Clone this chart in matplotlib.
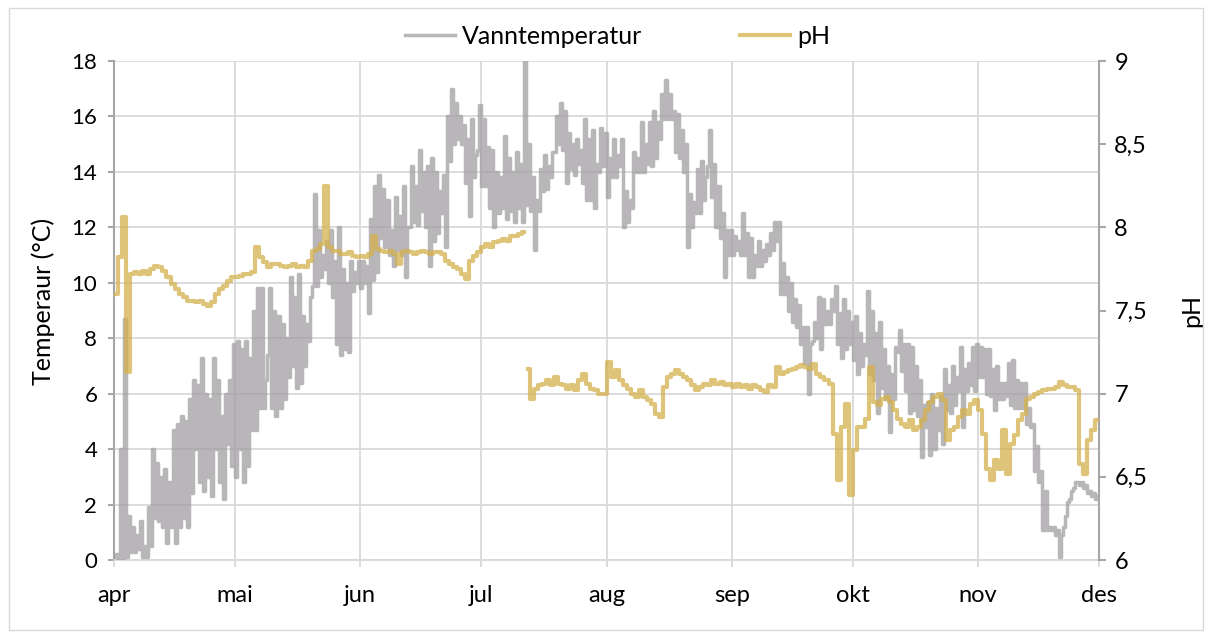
import numpy as np
import matplotlib
matplotlib.use("Agg")
import matplotlib.pyplot as plt
from matplotlib.patches import Rectangle
from matplotlib.ticker import FuncFormatter

plt.rcParams["font.family"] = ["Lato", "DejaVu Sans"]

# daily min / max water temperature, 1 apr - 30 nov
temp_lo = [
    # apr
    0.1, 0.0, 0.0, 0.1, 0.3, 0.3, 0.4, 0.1, 0.1, 0.5,
    1.5, 1.4, 1.2, 0.6, 1.2, 0.6, 1.2, 1.5, 1.2, 2.4,
    4.0, 2.8, 2.5, 3.0, 2.3, 4.0, 2.8, 2.2, 4.2, 3.4,
    # mai
    3.0, 4.0, 2.8, 3.4, 4.7, 4.7, 5.5, 5.5, 7.4, 5.5,
    5.2, 5.5, 5.8, 6.6, 7.0, 6.2, 6.4, 7.0, 7.9, 9.9,
    9.9, 10.2, 10.5, 10.0, 9.5, 7.8, 7.4, 7.6, 7.5, 9.7, 10.0,
    # jun
    9.8, 10.0, 8.9, 10.1, 10.4, 11.6, 11.3, 11.0, 10.6, 11.2,
    11.0, 10.2, 12.0, 12.2, 12.1, 12.6, 12.0, 10.6, 11.5, 11.8,
    12.5, 11.3, 14.4, 15.0, 15.2, 15.0, 13.6, 12.4, 13.8, 14.8,
    # jul
    13.5, 13.5, 12.7, 12.0, 12.5, 12.7, 12.3, 12.6, 12.2, 12.7,
    12.2, 12.8, 12.6, 11.2, 12.6, 13.3, 13.4, 13.8, 14.7, 15.0,
    14.8, 13.6, 14.1, 13.9, 14.3, 13.6, 13.0, 13.0, 12.7, 14.0, 14.2,
    # aug
    13.1, 13.8, 13.8, 14.2, 12.0, 12.2, 12.7, 14.0, 14.0, 14.0,
    14.3, 14.2, 14.5, 15.2, 15.9, 15.9, 15.9, 14.7, 14.5, 14.0,
    11.3, 12.0, 12.5, 12.5, 13.0, 14.2, 13.1, 12.0, 11.6, 10.2, 11.0,
    # sep
    11.0, 11.2, 11.0, 11.0, 10.2, 10.2, 10.6, 10.6, 10.8, 11.0,
    11.2, 11.5, 9.6, 9.6, 9.0, 8.6, 8.4, 7.8, 7.1, 6.0,
    7.9, 8.0, 7.6, 8.5, 8.5, 9.0, 7.8, 7.3, 7.6, 7.8,
    # okt
    7.2, 6.7, 7.0, 7.4, 6.7, 6.5, 5.3, 6.2, 5.8, 4.6,
    5.8, 7.5, 6.8, 6.1, 5.3, 5.4, 5.2, 3.7, 4.8, 3.8,
    4.0, 4.7, 4.2, 5.4, 5.3, 5.6, 6.1, 4.8, 6.1, 6.3, 6.1,
    # nov
    6.6, 6.6, 6.0, 5.9, 5.4, 5.8, 5.8, 5.9, 5.6, 5.5,
    5.5, 5.5, 4.9, 4.8, 3.2, 2.8, 1.1, 1.1, 1.1, 0.9,
    0.1, 1.2, 2.1, 2.5, 2.8, 2.7, 2.6, 2.4, 2.3, 2.2,
]
temp_hi = [
    # apr
    0.2, 4.0, 8.7, 1.6, 1.2, 0.9, 1.4, 0.5, 1.9, 4.0,
    3.5, 3.0, 3.3, 2.8, 4.7, 4.9, 5.2, 5.0, 5.8, 6.5,
    6.3, 7.3, 6.0, 5.8, 7.3, 6.5, 5.2, 6.0, 6.5, 7.8,
    # mai
    7.9, 7.6, 7.9, 7.3, 9.0, 9.8, 9.8, 6.5, 9.8, 9.0,
    8.8, 8.5, 8.0, 10.2, 9.5, 10.3, 8.8, 8.5, 9.5, 13.2,
    11.9, 11.0, 11.5, 11.9, 10.8, 12.0, 10.5, 10.0, 10.8, 10.4, 10.8,
    # jun
    10.8, 10.6, 12.3, 13.5, 13.9, 13.4, 13.0, 11.9, 13.1, 12.4,
    13.5, 12.0, 14.2, 13.5, 14.8, 14.0, 14.2, 14.5, 14.0, 13.3,
    13.9, 16.0, 17.0, 16.5, 16.0, 15.7, 15.2, 15.9, 14.6, 16.4,
    # jul
    15.9, 14.9, 14.8, 14.0, 13.8, 15.3, 14.5, 14.0, 14.7, 14.3,
    18.0, 15.0, 13.8, 13.0, 14.1, 14.6, 14.2, 14.7, 16.0, 16.5,
    16.2, 15.4, 15.0, 15.2, 14.8, 15.9, 15.2, 15.5, 14.3, 15.6, 15.4,
    # aug
    14.5, 15.2, 14.6, 15.2, 13.3, 13.0, 14.7, 14.5, 15.8, 15.0,
    15.8, 16.2, 15.8, 16.8, 17.3, 16.8, 16.2, 16.1, 15.5, 15.0,
    13.2, 12.9, 14.1, 14.4, 13.8, 15.5, 14.3, 13.5, 12.5, 11.9, 11.9,
    # sep
    11.7, 11.5, 12.5, 11.8, 11.6, 11.0, 11.5, 11.2, 11.4, 11.8,
    12.2, 12.2, 10.7, 10.2, 10.0, 9.4, 9.2, 8.4, 8.4, 7.8,
    8.6, 9.5, 9.4, 9.0, 9.4, 9.9, 8.9, 9.4, 9.0, 8.6,
    # okt
    8.8, 8.2, 7.8, 9.7, 9.0, 8.2, 8.6, 7.6, 7.0, 6.7,
    7.7, 8.3, 7.8, 7.8, 7.7, 7.0, 6.5, 5.6, 5.7, 6.0,
    5.5, 5.9, 6.9, 6.3, 7.0, 6.6, 7.7, 6.9, 7.1, 7.7, 7.8,
    # nov
    7.7, 7.6, 7.6, 6.9, 7.0, 6.4, 6.4, 7.1, 7.2, 6.5,
    6.4, 6.4, 5.5, 4.9, 4.1, 3.2, 2.5, 1.2, 1.2, 1.1,
    0.9, 1.6, 2.2, 2.6, 2.8, 2.8, 2.7, 2.5, 2.4, 2.3,
]

# daily pH, first sensor period (1 apr - 11 jul)
ph_a = [
    7.60, 7.82, 8.06, 7.13, 7.72, 7.73, 7.72, 7.74, 7.72, 7.75,
    7.77, 7.76, 7.74, 7.70, 7.66, 7.63, 7.60, 7.58, 7.56, 7.56,
    7.55, 7.56, 7.54, 7.53, 7.55, 7.60, 7.63, 7.65, 7.68, 7.70,
    7.70, 7.71, 7.72, 7.72, 7.73, 7.88, 7.82, 7.79, 7.76, 7.78,
    7.78, 7.77, 7.76, 7.77, 7.78, 7.76, 7.77, 7.76, 7.80, 7.86,
    7.87, 7.90, 8.25, 7.88, 7.86, 7.86, 7.84, 7.84, 7.85, 7.83,
    7.82, 7.83, 7.82, 7.84, 7.95, 7.87, 7.86, 7.85, 7.86, 7.84,
    7.78, 7.85, 7.86, 7.85, 7.84, 7.85, 7.86, 7.85, 7.84, 7.85,
    7.85, 7.84, 7.80, 7.78, 7.76, 7.75, 7.72, 7.69, 7.80, 7.83,
    7.85, 7.88, 7.90, 7.88, 7.91, 7.92, 7.93, 7.92, 7.95, 7.95,
    7.96, 7.97,
]
# daily pH, second sensor period (12 jul - 30 nov)
ph_b = [
    7.15, 6.97, 7.03, 7.05, 7.06, 7.08, 7.05, 7.10, 7.06, 7.05,
    7.03, 7.05, 7.02, 7.08, 7.12, 7.06, 7.03, 7.02, 7.00, 7.00,
    7.19, 7.10, 7.14, 7.08, 7.05, 7.03, 7.00, 6.98, 7.02, 6.98,
    6.96, 6.94, 6.88, 6.86, 7.04, 7.10, 7.12, 7.14, 7.12, 7.10,
    7.08, 7.05, 7.02, 7.04, 7.06, 7.05, 7.08, 7.06, 7.07, 7.05,
    7.06, 7.04, 7.06, 7.04, 7.05, 7.03, 7.05, 7.04, 7.02, 7.01,
    7.05, 7.04, 7.16, 7.12, 7.13, 7.14, 7.15, 7.16, 7.17, 7.16,
    7.15, 7.18, 7.12, 7.10, 7.08, 7.06, 6.76, 6.48, 6.80, 6.94,
    6.39, 6.66, 6.80, 6.80, 6.85, 7.16, 6.95, 6.93, 6.97, 6.98,
    6.95, 6.90, 6.85, 6.82, 6.80, 6.84, 6.78, 6.80, 6.84, 6.90,
    6.95, 6.98, 7.00, 6.96, 6.72, 6.78, 6.80, 6.86, 6.90, 6.88,
    6.94, 6.96, 6.90, 6.76, 6.55, 6.48, 6.60, 6.55, 6.78, 6.52,
    6.70, 6.75, 6.84, 6.88, 6.97, 6.98, 7.00, 7.01, 7.02, 7.03,
    7.03, 7.04, 7.07, 7.05, 7.04, 7.04, 7.02, 6.58, 6.52, 6.72,
    6.78, 6.84,
]

start_a = np.datetime64("2019-04-01")
start_b = np.datetime64("2019-07-12")
month_starts = np.array(["2019-04-01", "2019-05-01", "2019-06-01", "2019-07-01", "2019-08-01",
                         "2019-09-01", "2019-10-01", "2019-11-01", "2019-12-01"], dtype="datetime64[D]")
month_labels = ["apr", "mai", "jun", "jul", "aug", "sep", "okt", "nov", "des"]
temp_ticks = list(range(0, 19, 2))
ph_ticks = [6, 6.5, 7, 7.5, 8, 8.5, 9]

GREY = "#a09ea0"
GOLD = "#d3b04b"
GRID = "#d9d9d9"
AXIS = "#a6a6a6"

# temperature as min at midnight, max at noon
n = len(temp_lo)
day_t = start_a + np.arange(n).astype("timedelta64[D]")
t_temp = np.empty(2 * n, dtype="datetime64[h]")
t_temp[0::2] = day_t
t_temp[1::2] = day_t + np.timedelta64(12, "h")
v_temp = np.empty(2 * n)
v_temp[0::2] = temp_lo
v_temp[1::2] = temp_hi

t_ph_a = start_a + np.arange(len(ph_a)).astype("timedelta64[D]") + np.timedelta64(12, "h")
t_ph_b = start_b + np.arange(len(ph_b)).astype("timedelta64[D]") + np.timedelta64(12, "h")

fig = plt.figure(figsize=(12.1, 6.32), dpi=100)
ax = fig.add_axes([114 / 1210, 1 - 560 / 632, 985 / 1210, 499 / 632])
ax2 = ax.twinx()

l_temp, = ax.plot(t_temp, v_temp, color=GREY, alpha=0.75, lw=2.5,
                  drawstyle="steps-post", label="Vanntemperatur", zorder=3)
l_ph, = ax2.plot(t_ph_a, ph_a, color=GOLD, alpha=0.75, lw=3,
                 drawstyle="steps-mid", label="pH", zorder=3)
ax2.plot(t_ph_b, ph_b, color=GOLD, alpha=0.75, lw=3, drawstyle="steps-mid", zorder=3)

ax.set_xlim(month_starts[0], month_starts[-1])
ax.set_ylim(0, 18)
ax2.set_ylim(6, 9)
ax.set_xticks(month_starts)
ax.set_xticklabels(month_labels)
ax.set_yticks(temp_ticks)
ax2.set_yticks(ph_ticks)
ax2.yaxis.set_major_formatter(FuncFormatter(lambda v, p: f"{v:g}".replace(".", ",")))

ax.grid(True, color=GRID, lw=1.3, zorder=0)
ax.set_axisbelow(True)

for s in ["top", "right"]:
    ax.spines[s].set_visible(False)
for s in ["top", "left", "bottom"]:
    ax2.spines[s].set_visible(False)
ax.spines["bottom"].set_color(GRID)
ax.spines["bottom"].set_linewidth(1.3)
ax.spines["left"].set_color(AXIS)
ax.spines["left"].set_linewidth(1.5)
ax2.spines["right"].set_color(AXIS)
ax2.spines["right"].set_linewidth(1.5)

ax.tick_params(axis="x", direction="out", length=5, width=1.3, color=GRID,
               labelsize=17, pad=13, labelcolor="#000000")
ax.tick_params(axis="y", direction="out", length=4, width=1.5, color=AXIS,
               labelsize=16, pad=8, labelcolor="#000000")
ax2.tick_params(axis="y", direction="out", length=5, width=1.5, color=AXIS,
                labelsize=17, pad=6, labelcolor="#000000")

ax.set_ylabel("Temperaur (°C)", fontsize=18)
ax.yaxis.set_label_coords(-0.060, 0.519)
ax2.set_ylabel("pH", fontsize=18)
ax2.yaxis.set_label_coords(1.082, 0.5)

fig.legend([l_temp, l_ph], ["Vanntemperatur", "pH"], loc="center",
           bbox_to_anchor=(0.5103, 0.942), ncol=2, frameon=False, fontsize=18,
           handlelength=2.0, columnspacing=3.9, handletextpad=0.3)

fig.add_artist(Rectangle((9 / 1210, 2 / 632), 1194 / 1210, 622 / 632,
                         transform=fig.transFigure, fill=False, ec=GRID, lw=1))

fig.savefig("out.png", dpi=100)
